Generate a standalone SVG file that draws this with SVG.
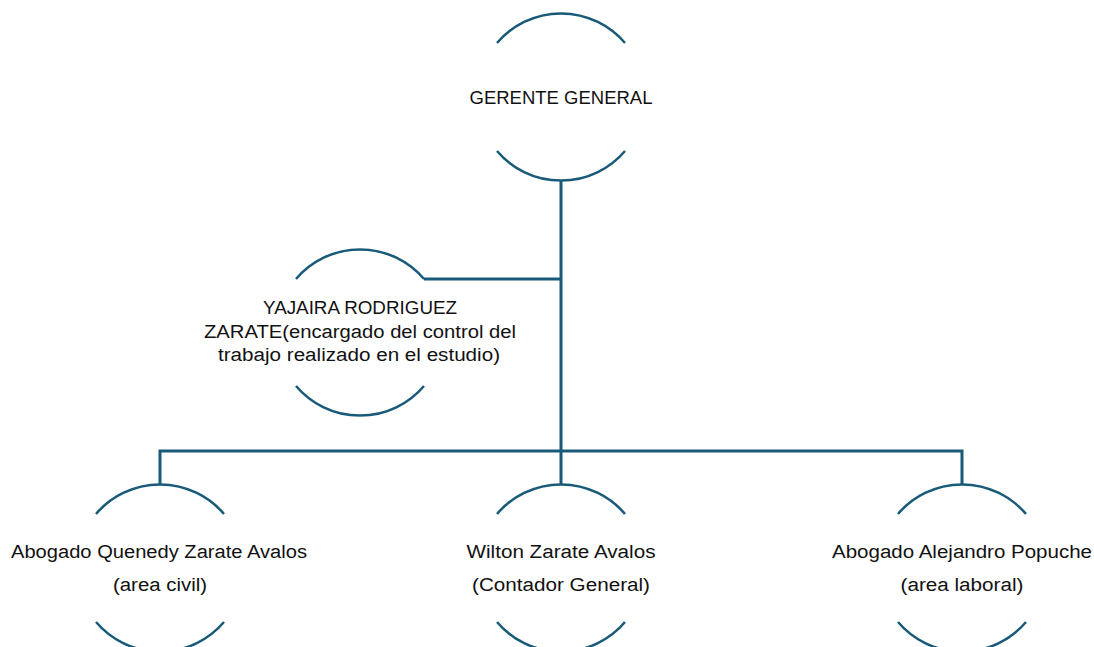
<svg xmlns="http://www.w3.org/2000/svg" width="1094" height="647" viewBox="0 0 1094 647">
<style>
.arc{fill:none;stroke:#185A78;stroke-width:2.5;}
.ln{fill:none;stroke:#185A78;stroke-width:3;}
text{font-family:"Liberation Sans",Arial,sans-serif;font-size:18px;fill:#111;text-anchor:middle;}
</style>
<rect width="1094" height="647" fill="#fff"/>
<g id="connectors">
<path class="ln" d="M561 181 V485"/>
<path class="ln" d="M424 279 H561"/>
<path class="ln" d="M160 485 V451 H962 V485"/>
</g>
<g id="gerente">
<path class="arc" d="M497 43 A84 84 0 0 1 625 43"/>
<path class="arc" d="M497 151 A84 84 0 0 0 625 151"/>
<text x="561" y="104" textLength="183" lengthAdjust="spacingAndGlyphs">GERENTE GENERAL</text>
</g>
<g id="yajaira">
<path class="arc" d="M296 279 A84 84 0 0 1 424 279"/>
<path class="arc" d="M296 386 A84 84 0 0 0 424 386"/>
<text x="360" y="314" textLength="194" lengthAdjust="spacingAndGlyphs">YAJAIRA RODRIGUEZ</text>
<text x="360" y="338" textLength="312" lengthAdjust="spacingAndGlyphs">ZARATE(encargado del control del</text>
<text x="359" y="361" textLength="282" lengthAdjust="spacingAndGlyphs">trabajo realizado en el estudio)</text>
</g>
<g id="quenedy">
<path class="arc" d="M96 514 A84 84 0 0 1 224 514"/>
<path class="arc" d="M96 622 A84 84 0 0 0 224 622"/>
<text x="159" y="558" textLength="296" lengthAdjust="spacingAndGlyphs">Abogado Quenedy Zarate Avalos</text>
<text x="160" y="591" textLength="94" lengthAdjust="spacingAndGlyphs">(area civil)</text>
</g>
<g id="wilton">
<path class="arc" d="M497 514 A84 84 0 0 1 625 514"/>
<path class="arc" d="M497 622 A84 84 0 0 0 625 622"/>
<text x="561" y="558" textLength="189" lengthAdjust="spacingAndGlyphs">Wilton Zarate Avalos</text>
<text x="561" y="591" textLength="178" lengthAdjust="spacingAndGlyphs">(Contador General)</text>
</g>
<g id="alejandro">
<path class="arc" d="M898 514 A84 84 0 0 1 1026 514"/>
<path class="arc" d="M898 622 A84 84 0 0 0 1026 622"/>
<text x="962" y="558" textLength="260" lengthAdjust="spacingAndGlyphs">Abogado Alejandro Popuche</text>
<text x="962" y="591" textLength="123" lengthAdjust="spacingAndGlyphs">(area laboral)</text>
</g>
</svg>
